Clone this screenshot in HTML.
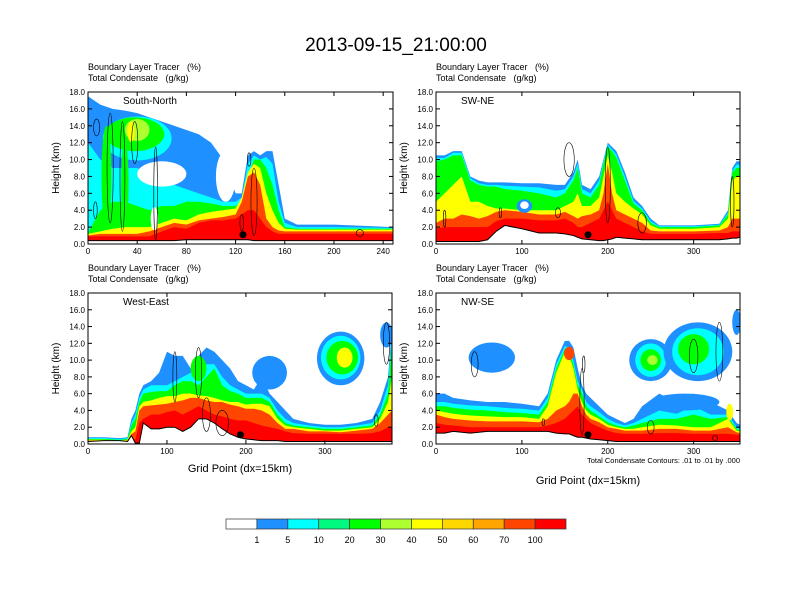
<!DOCTYPE html>
<html><head><meta charset="utf-8"><style>
body{margin:0;background:#fff;}
svg{display:block;font-family:"Liberation Sans",Arial,sans-serif;}
</style></head><body>
<svg id="chart" width="792" height="612" viewBox="0 0 792 612" xmlns="http://www.w3.org/2000/svg">
<rect x="0" y="0" width="792" height="612" fill="#fff"/>
<text x="396" y="51" font-size="19" text-anchor="middle">2013-09-15_21:00:00</text>
<g id="panels"></g>
<g id="colorbar"></g>
</svg>
<script>
// ---- level colors / labels ----
const levelColors=['#FFFFFF','#1E90FF','#00FFFF','#00FA80','#00FF00','#ADFF2F','#FFFF00','#FFD700','#FFA500','#FF4500','#FF0000'];
const levelLabels=['1','5','10','20','30','40','50','60','70','100'];
const yTicks=[0,2,4,6,8,10,12,14,16,18];

// ---- South-North ----
const snXs=[0,10,20,30,40,50,60,70,80,90,100,110,120,125,130,135,140,145,150,155,160,170,200,248];
const snTerrain=[0.4,0.4,0.4,0.4,0.4,0.4,0.4,0.4,0.5,0.5,0.5,0.5,0.5,0.5,0.5,0.4,0.4,0.4,0.4,0.4,0.4,0.4,0.4,0.4];
const snBlue=[17.5,16.5,16,15.8,15.5,15,14.5,14,13.5,13,12,10,6,6,10.5,11,10.5,11,11,7,3,2.3,2.3,2.0];
const snCyan=[12,10,9,9,9,8.5,8,7,6.5,6,5.5,5,5,5.5,9.5,10.5,10,10.3,9.5,5,2.5,2.0,2.0,1.9];
const snGreen=[1.3,4,5,5,4.5,4,4.5,4.5,5,5,4.8,4.5,4.5,5,8,10,10,9,7,4,2,1.8,1.8,1.8];
const snYellow=[1.2,1.5,1.8,2,2,2,2.5,3,2.8,3.5,3.8,4,4.2,5.5,8.5,9.5,9,6,4,2.5,1.8,1.7,1.7,1.7];
const snOrange=[1,1.2,1.2,1.2,1.2,1.5,2.0,2.5,2.3,2.8,3,3.2,3.5,5,8,8.5,7,3,2,1.6,1.5,1.5,1.5,1.5];
const snRed=[0.9,0.9,0.9,0.9,0.9,0.9,1.5,2,1.8,2.5,2.8,2.8,3,3.5,4,4,3,2,1.5,1.2,1.2,1.2,1.2,1.2];
const snBlobs=[[40,12.5,28,2.6,2],[38,13,24,2,4],[40,13.5,10,1.3,5],[35,13.3,3,1.2,6],[15,8,4,6,4],[30,7,3,5,4],[60,8.3,20,1.5,0],[112,8,8,3,0],[54,3,3,1.4,0]];
const snContours=[[7,13.8,2.5,1],[18,9,2.5,6.5],[28,8,2,6.5],[38,12,2.5,2.5],[55,6,1.5,5.5],[135,5,2.5,4],[131,10,1.5,0.8],[6,4,1.5,1],[221,1.3,3,0.4],[125,2.5,1.5,1]];
const snDot=[126,1.1];

// ---- SW-NE ----
const swXs=[0,10,20,30,40,50,60,70,80,100,120,140,150,160,165,170,180,190,195,200,205,210,220,230,240,250,260,300,330,340,345,350,354];
const swTerrain=[0.3,0.3,0.3,0.3,0.3,0.3,0.5,1.5,2.2,1.8,1.3,1.3,1.2,1.0,0.8,0.6,0.5,0.4,0.4,0.5,0.6,0.8,0.7,0.6,0.5,0.5,0.5,0.5,0.5,0.6,0.7,0.7,0.8];
const swBlue=[10.5,10.5,11,11,8,7.5,7.3,7.3,7.3,7.2,7.2,7,7,8.5,10,7,6.5,8,10,12,11.5,11,8.5,5.5,4.5,3.0,2.2,2.2,2.4,4,9,9.8,9.8];
const swCyan=[10.2,10.2,10.8,10.8,7.8,7.2,7,7,6.9,6.8,6.7,6.3,6.5,8,9.5,6.5,6,7.5,9.8,11.8,11.2,10.6,8,5.1,4.2,2.7,2.1,2.1,2.3,3.7,8.7,9.4,9.4];
const swGreen=[9.8,10,10.5,10.5,7.5,7,6.8,6.8,6.5,6.3,6,5.5,6,7.5,9,6,5.5,7,9.5,11.5,11,10.2,7.5,4.8,4,2.5,2,2,2.2,3.5,8.5,9,9];
const swYellow=[5,6,7,8,5,5,4.5,4.2,4.2,4,4,4,4.5,5,6,4.5,4.5,5.5,8,10.5,8.5,6,5,4.2,3.5,2.2,1.8,1.8,2,3,7.5,8,8];
const swOrange=[2.5,3,3,3.5,3.3,3,3.3,3.8,4,3.8,3.5,3.5,3.8,3.3,3,3.3,3.5,4,6,9.5,6,4,3.5,3,2.5,1.6,1.5,1.5,1.6,2,3,3,3];
const swRed=[1.8,2,2,2,2,2,2,2.7,3,3,2.8,2.8,3,2.5,2,2,2.5,3,4,5,4,3,2.5,2,1.5,1.2,1.2,1.2,1.3,1.3,1.5,1.5,1.5];
const swBlobs=[[103,4.5,9,0.8,1],[103,4.6,5,0.45,0]];
const swContours=[[155,10,6,2],[200,7,3,4.5],[142,3.7,3,0.6],[10,3,1.5,1],[345,5,2,3],[240,2.5,5,1.2],[75,3.7,1.5,0.6]];
const swDot=[177,1.1];

// ---- West-East ----
const weXs=[0,20,40,50,55,60,65,70,80,90,100,110,120,130,140,150,160,170,180,190,200,210,220,230,240,250,260,280,300,320,340,360,370,380,385];
const weTerrain=[0.3,0.4,0.4,0.3,1,0.1,0.1,2.5,1.8,1.8,2,2,1.5,2,3,3,2.5,1.8,1.2,0.8,0.6,0.5,0.4,0.4,0.4,0.3,0.3,0.3,0.3,0.3,0.3,0.3,0.3,0.3,0.3];
const weBlue=[0.8,0.8,0.7,0.8,3,4,6,7,7.5,8.5,11,10.5,10.5,9,10.5,11.5,11,10,9,7.5,7,6.5,8,6,5,4,3,2.5,2.3,2.3,2.5,3,5,8,14];
const weCyan=[0.7,0.7,0.6,0.7,2.5,3.5,5.5,6.5,7,7,7,7.5,8,8.5,8.5,9.5,9.5,8,7,6.5,6,6,6,5.5,4,3,2.5,2.2,2,2,2.2,2.5,4,7,13];
const weGreen=[0.6,0.6,0.5,0.6,2.2,3,5,6,6.2,6.3,6.3,7,7.5,7.5,7,8,9,7,6.3,6,5.5,5.5,5.5,5,3.5,2.5,2.2,2,1.8,1.8,2,2.2,3.5,6,12];
const weYellow=[0.5,0.5,0.4,0.5,1.5,2,4.5,5,5.2,5.5,5.7,5.7,6,6,5.8,5.7,5.5,5.2,5,5,4.7,4.8,4.8,4.5,3,2.2,2,1.8,1.6,1.6,1.8,2,3,5,8];
const weOrange=[0.4,0.4,0.3,0.4,1.2,1.5,4,4.5,4.6,4.7,4.8,5,5.2,5.5,5.5,5.2,5,5,4.7,4.5,4.2,4.2,4,3.5,2.5,1.8,1.8,1.5,1.5,1.4,1.6,1.8,2.5,3.5,4];
const weRed=[0.35,0.35,0.3,0.35,0.8,0.5,2.5,3,3.5,3.5,3.8,4,3.5,4,4.5,4,3.5,3.3,3,2.8,2.8,2.5,2.2,2,1.8,1.5,1.3,1.2,1.2,1.2,1.2,1.3,1.5,2,2];
const weBlobs=[[230,8.5,22,2,1],[320,10.2,30,3.2,1],[320,10.3,25,2.6,2],[322,10.3,20,2.0,4],[325,10.3,10,1.2,6],[378,13,8,1.5,1],[140,9,10,1.5,4]];
const weContours=[[110,8,2.5,3],[140,8.5,4,3],[150,3.5,5,2],[170,2.5,8,1.5],[365,2.8,2.5,0.7],[378,12,4,2.5]];
const weDot=[193,1.1];

// ---- NW-SE ----
const nwXs=[0,10,20,40,60,80,100,120,130,140,150,155,160,165,170,175,180,190,200,210,220,230,240,260,280,300,320,340,350,354];
const nwTerrain=[1.3,1.3,1.5,1.3,1.5,1.5,1.5,1.5,1.5,1.3,1.2,1.2,1.0,0.8,0.8,0.7,0.6,0.5,0.4,0.3,0.3,0.3,0.3,0.3,0.3,0.3,0.3,0.3,0.3,0.3];
const nwBlue=[6,6,5.5,5.2,5,5,4.8,4.5,6,10,12.3,12.3,11.5,9,7,6,5.5,4.5,3.5,3,2.5,3,4.5,6,5,6,5,4,2.5,2.3];
const nwCyan=[5,5,4.8,4.6,4.5,4.3,4.2,4,5.5,9.5,11.7,11.5,10,7.5,6.5,5,4.5,3.8,3,2.5,2.2,2.5,3,4,3.6,4.5,3.5,3.5,2,1.8];
const nwGreen=[4.5,4.5,4.3,4.1,4,3.8,3.7,3.5,5,9,11.3,11,9.5,7,6,4.5,4,3.3,2.6,2.2,2,2.2,2.5,3,3,3.5,3,3.2,1.8,1.6];
const nwYellow=[4,3.8,3.6,3.4,3.3,3.2,3.2,3,4.5,8.5,11,10.5,9,6.5,5,4,3.5,3,2.3,2,1.8,1.8,2,2.3,2.2,2,2,3,1.6,1.5];
const nwOrange=[3.5,3.2,3,2.8,2.7,2.7,2.7,2.6,3,4,4.5,5,6,6,4.5,3.5,3,2.6,2,1.8,1.6,1.6,1.6,1.8,1.8,1.6,1.6,2,1.4,1.3];
const nwRed=[2.5,2.3,2.2,2,2,2,2,2,2.2,2.5,3,3.5,4,4.5,3.5,3,2.5,2,1.6,1.3,1.2,1.2,1.2,1.3,1.3,1.2,1.2,1.2,1.1,1.1];
const nwBlobs=[[65,10.3,27,1.8,1],[155,10.8,6,0.8,9],[250,10,25,2.5,1],[250,10,18,2,2],[250,10,12,1.3,4],[252,10,6,0.6,5],[305,11,40,3.5,1],[305,11,30,2.8,2],[300,11.3,18,1.8,4],[350,14.5,5,1.5,1],[290,5,40,1,1],[342,3.8,4,1,6]];
const nwContours=[[45,9.5,4,1.5],[170,5,2.5,4],[172,9.5,1.5,1],[300,10.5,5,2],[330,11,4,3.5],[125,2.6,1.5,0.4],[250,2,4,0.8],[325,0.7,3,0.3]];
const nwDot=[177,1.1];

const panels=[
 {name:'south-north',label:'South-North',x0:88,x1:393,y0:92,y1:244,xmax:248,xt:[0,40,80,120,160,200,240],xs:snXs,ter:snTerrain,bands:[snBlue,snCyan,snGreen,snYellow,snOrange,snRed],blobs:snBlobs,cont:snContours,dot:snDot,xlabel:null},
 {name:'sw-ne',label:'SW-NE',x0:436,x1:740,y0:92,y1:244,xmax:354,xt:[0,100,200,300],xs:swXs,ter:swTerrain,bands:[swBlue,swCyan,swGreen,swYellow,swOrange,swRed],blobs:swBlobs,cont:swContours,dot:swDot,xlabel:null},
 {name:'west-east',label:'West-East',x0:88,x1:392,y0:293,y1:444,xmax:385,xt:[0,100,200,300],xs:weXs,ter:weTerrain,bands:[weBlue,weCyan,weGreen,weYellow,weOrange,weRed],blobs:weBlobs,cont:weContours,dot:weDot,xlabel:[240,472]},
 {name:'nw-se',label:'NW-SE',x0:436,x1:740,y0:293,y1:444,xmax:354,xt:[0,100,200,300],xs:nwXs,ter:nwTerrain,bands:[nwBlue,nwCyan,nwGreen,nwYellow,nwOrange,nwRed],blobs:nwBlobs,cont:nwContours,dot:nwDot,xlabel:[588,484]}
];
const bandColorIdx=[1,2,4,6,9,10];
const NS='http://www.w3.org/2000/svg';
function mk(tag,attrs,parent){const e=document.createElementNS(NS,tag);for(const k in attrs)e.setAttribute(k,attrs[k]);parent.appendChild(e);return e;}
const root=document.getElementById('panels');
panels.forEach((p,pi)=>{
  const g=mk('g',{},root);
  
  
  const sx=v=>p.x0+(v/p.xmax)*(p.x1-p.x0);
  const sy=v=>p.y1-(v/18)*(p.y1-p.y0);
  const cid='clip'+pi;
  const cp=mk('clipPath',{id:cid},g);mk('rect',{x:p.x0,y:p.y0,width:p.x1-p.x0,height:p.y1-p.y0},cp);
  const pg=mk('g',{'clip-path':'url(#'+cid+')'},g);
  mk('rect',{x:p.x0,y:p.y0,width:p.x1-p.x0,height:p.y1-p.y0,fill:'#fff'},pg);
  const base=p.xs.map((x,i)=>sx(x)+','+sy(p.ter[i])).reverse().join(' ');
  p.bands.forEach((b,bi)=>{
    const top=p.xs.map((x,i)=>sx(x)+','+sy(b[i])).join(' ');
    const poly=mk('polygon',{points:top+' '+base,fill:levelColors[bandColorIdx[bi]]},pg);
    
    
  });
  p.blobs.forEach(b=>{
    const e=mk('ellipse',{cx:sx(b[0]),cy:sy(b[1]),rx:b[2]/p.xmax*(p.x1-p.x0),ry:b[3]/18*(p.y1-p.y0),fill:levelColors[b[4]]},pg);
    
    
  });
  const tpts=p.xs.map((x,i)=>sx(x)+','+sy(p.ter[i])).join(' ');
  mk('polygon',{points:tpts+' '+sx(p.xmax)+','+p.y1+' '+p.x0+','+p.y1,fill:'#fff'},pg);
  const tl=mk('polyline',{points:tpts,fill:'none',stroke:'#000','stroke-width':1},pg);
  
  
  p.cont.forEach(c=>{
    const e=mk('ellipse',{cx:sx(c[0]),cy:sy(c[1]),rx:c[2]/p.xmax*(p.x1-p.x0),ry:c[3]/18*(p.y1-p.y0),fill:'none',stroke:'#000','stroke-width':0.6},pg);
    
    
  });
  const d=mk('circle',{cx:sx(p.dot[0]),cy:sy(p.dot[1]),r:3.5,fill:'#000'},pg);
  
  
  mk('rect',{x:p.x0,y:p.y0,width:p.x1-p.x0,height:p.y1-p.y0,fill:'none',stroke:'#000','stroke-width':1},g);
  yTicks.forEach(t=>{
    const y=sy(t);
    mk('line',{x1:p.x0,x2:p.x0+4,y1:y,y2:y,stroke:'#000'},g);
    mk('line',{x1:p.x1,x2:p.x1-4,y1:y,y2:y,stroke:'#000'},g);
    const tx=mk('text',{x:p.x0-3,y:y+3,'font-size':8,'text-anchor':'end'},g);tx.textContent=t.toFixed(1);
    
    
  });
  p.xt.forEach(t=>{
    const x=sx(t);
    mk('line',{x1:x,x2:x,y1:p.y1,y2:p.y1-4,stroke:'#000'},g);
    mk('line',{x1:x,x2:x,y1:p.y0,y2:p.y0+4,stroke:'#000'},g);
    const tx=mk('text',{x:x,y:p.y1+10,'font-size':8,'text-anchor':'middle'},g);tx.textContent=t;
    
    
  });
  const yl=mk('text',{x:0,y:0,'font-size':10,'text-anchor':'middle',transform:'translate('+(p.x0-29)+','+((p.y0+p.y1)/2)+') rotate(-90)'},g);
  yl.textContent='Height (km)';
  
  
  const h1=mk('text',{x:p.x0,y:p.y0-22,'font-size':9},g);h1.textContent='Boundary Layer Tracer\u00a0\u00a0\u00a0(%)';
  
  
  const h2=mk('text',{x:p.x0,y:p.y0-11,'font-size':9},g);h2.textContent='Total Condensate\u00a0\u00a0\u00a0(g/kg)';
  
  
  const lb=mk('text',{x:p.x0+(pi%2?25:35),y:p.y0+12,'font-size':10},g);lb.textContent=p.label;
  
  
  if(p.xlabel){
    const xl=mk('text',{x:p.xlabel[0],y:p.xlabel[1],'font-size':11,'text-anchor':'middle'},g);xl.textContent='Grid Point (dx=15km)';
    
    
  }
});
const note=mk('text',{x:740,y:463,'font-size':7.5,'text-anchor':'end'},root);
note.textContent='Total Condensate Contours: .01 to .01 by .000';


const cb=document.getElementById('colorbar');
const cbX0=226,cbW=340/11,cbY=519,cbH=10;
levelColors.forEach((c,i)=>{
  const r=mk('rect',{x:cbX0+i*cbW,y:cbY,width:cbW,height:cbH,fill:c,stroke:'#333','stroke-width':0.7},cb);
  
  
});
levelLabels.forEach((l,i)=>{
  const t=mk('text',{x:cbX0+(i+1)*cbW,y:543,'font-size':9,'text-anchor':'middle'},cb);t.textContent=l;
  
  
});
</script>
</body></html>
